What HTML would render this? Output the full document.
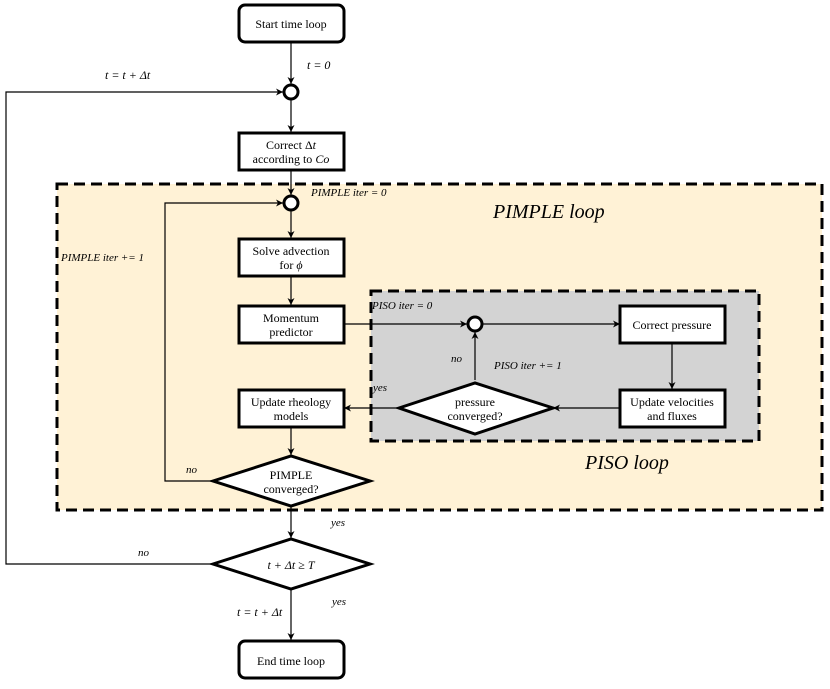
<!DOCTYPE html>
<html><head><meta charset="utf-8"><style>
body{margin:0;background:#fff}
svg text{font-family:"Liberation Serif","DejaVu Serif",serif;fill:#000}
</style></head><body>
<svg width="830" height="684" xmlns="http://www.w3.org/2000/svg" font-family="Liberation Serif, DejaVu Serif, serif" font-size="12">
<defs><marker id="a" markerWidth="8" markerHeight="8" refX="7" refY="4" orient="auto" markerUnits="userSpaceOnUse"><path d="M0,0.5 L7,4 L0,7.5 L2,4 Z" fill="#000"/></marker></defs>
<rect x="57" y="184" width="765" height="326" fill="#fff2d6" stroke="#000" stroke-width="3" stroke-dasharray="11,6"/>
<rect x="371" y="291" width="388" height="150" fill="#d3d3d3" stroke="#000" stroke-width="3" stroke-dasharray="11,6"/>
<g stroke="#000" stroke-width="1.2" fill="none">
<line x1="291" y1="42" x2="291" y2="84" marker-end="url(#a)"/>
<line x1="291" y1="100" x2="291" y2="132" marker-end="url(#a)"/>
<line x1="291" y1="170" x2="291" y2="195" marker-end="url(#a)"/>
<line x1="291" y1="211" x2="291" y2="238" marker-end="url(#a)"/>
<line x1="291" y1="276" x2="291" y2="305" marker-end="url(#a)"/>
<line x1="344" y1="324" x2="467" y2="324" marker-end="url(#a)"/>
<line x1="483" y1="324" x2="620" y2="324" marker-end="url(#a)"/>
<line x1="672" y1="343" x2="672" y2="389" marker-end="url(#a)"/>
<line x1="620" y1="408" x2="553" y2="408" marker-end="url(#a)"/>
<line x1="475" y1="380" x2="475" y2="332" marker-end="url(#a)"/>
<line x1="399" y1="408" x2="344" y2="408" marker-end="url(#a)"/>
<line x1="291" y1="427" x2="291" y2="455" marker-end="url(#a)"/>
<polyline points="213,481 165,481 165,203 283,203" marker-end="url(#a)"/>
<line x1="291" y1="507" x2="291" y2="538" marker-end="url(#a)"/>
<polyline points="213,564 6,564 6,92 283,92" marker-end="url(#a)"/>
<line x1="291" y1="589" x2="291" y2="640" marker-end="url(#a)"/>
</g>
<g stroke="#000" stroke-width="3" fill="#fff">
<rect x="239" y="5" width="105" height="37" rx="6"/>
<circle cx="291" cy="92" r="7"/>
<rect x="239" y="133" width="105" height="37"/>
<circle cx="291" cy="203" r="7"/>
<rect x="239" y="239" width="105" height="37"/>
<rect x="239" y="306" width="105" height="37"/>
<circle cx="475" cy="324" r="7"/>
<rect x="620" y="306" width="105" height="37"/>
<rect x="620" y="390" width="105" height="37"/>
<polygon points="399,408 475,383 553,408 475,434"/>
<rect x="239" y="390" width="105" height="37"/>
<polygon points="213,481 291,456 370,481 291,506"/>
<polygon points="213,564 291,539 370,564 291,589"/>
<rect x="239" y="641" width="105" height="37" rx="6"/>
</g>
<g text-anchor="middle" style="font-size:12px">
<text x="291" y="28">Start time loop</text>
<text x="291" y="149">Correct Δ<tspan font-style="italic">t</tspan></text>
<text x="291" y="163">according to <tspan font-style="italic">Co</tspan></text>
<text x="291" y="255">Solve advection</text>
<text x="291" y="269">for <tspan font-style="italic">ϕ</tspan></text>
<text x="291" y="322">Momentum</text>
<text x="291" y="336">predictor</text>
<text x="672" y="329">Correct pressure</text>
<text x="672" y="406">Update velocities</text>
<text x="672" y="420">and fluxes</text>
<text x="475" y="406">pressure</text>
<text x="475" y="420">converged?</text>
<text x="291" y="406">Update rheology</text>
<text x="291" y="420">models</text>
<text x="291" y="479">PIMPLE</text>
<text x="291" y="493">converged?</text>
<text x="291" y="569" font-style="italic">t + Δt ≥ T</text>
<text x="291" y="665">End time loop</text>
</g>
<g font-style="italic" style="font-size:12px;font-style:italic">
<text x="307" y="69">t = 0</text>
<text x="105" y="79">t = t + Δt</text>
<text x="311" y="196" style="font-size:11px">PIMPLE iter = 0</text>
<text x="61" y="261" style="font-size:11px">PIMPLE iter += 1</text>
<text x="372" y="309" style="font-size:11px">PISO iter = 0</text>
<text x="451" y="362" style="font-size:11px">no</text>
<text x="494" y="369" style="font-size:11px">PISO iter += 1</text>
<text x="373" y="391" style="font-size:11px">yes</text>
<text x="186" y="473" style="font-size:11px">no</text>
<text x="331" y="526" style="font-size:11px">yes</text>
<text x="138" y="556" style="font-size:11px">no</text>
<text x="332" y="605" style="font-size:11px">yes</text>
<text x="237" y="616">t = t + Δt</text>
<text x="493" y="218" style="font-size:20px">PIMPLE loop</text>
<text x="585" y="469" style="font-size:20px">PISO loop</text>
</g>
</svg>
</body></html>
